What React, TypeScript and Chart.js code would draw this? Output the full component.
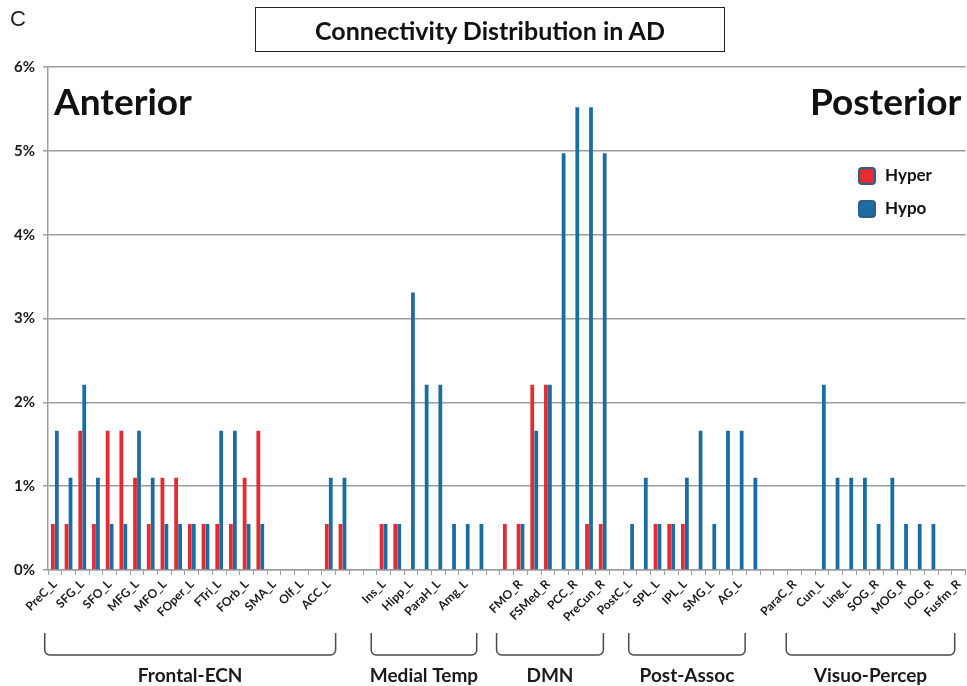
import React, { useEffect, useRef } from "react";
import { Chart, registerables } from "chart.js";

Chart.register(...registerables);

// Category labels (every category; only even-indexed ones are printed, as in the reference)
const regions: string[] = [
  "PreC_L", "PreC_R", "SFG_L", "SFG_R", "SFO_L", "SFO_R", "MFG_L", "MFG_R",
  "MFO_L", "MFO_R", "FOper_L", "FOper_R", "FTri_L", "FTri_R", "FOrb_L", "FOrb_R",
  "SMA_L", "SMA_R", "Olf_L", "Olf_R", "ACC_L", "ACC_R",
  "", "",
  "Ins_L", "Ins_R", "Hipp_L", "Hipp_R", "ParaH_L", "ParaH_R", "Amg_L", "Amg_R",
  "",
  "FMO_L", "FMO_R", "FSMed_L", "FSMed_R", "PCC_L", "PCC_R", "PreCun_L", "PreCun_R",
  "",
  "PostC_L", "PostC_R", "SPL_L", "SPL_R", "IPL_L", "IPL_R", "SMG_L", "SMG_R", "AG_L", "AG_R",
  "",
  "ParaC_L", "ParaC_R", "Cal_R", "Cun_L", "Cun_R", "Ling_L", "Ling_R", "SOG_R", "MOG_L",
  "MOG_R", "IOG_L", "IOG_R", "Fusfm_L", "Fusfm_R",
];

// Percent of connections
const hyper: number[] = [
  0.55, 0.55, 1.66, 0.55, 1.66, 1.66, 1.10, 0.55, 1.10, 1.10, 0.55, 0.55, 0.55, 0.55, 1.10, 1.66,
  0, 0, 0, 0, 0.55, 0.55,
  0, 0,
  0.55, 0.55, 0, 0, 0, 0, 0, 0,
  0,
  0.55, 0.55, 2.21, 2.21, 0, 0, 0.55, 0.55,
  0,
  0, 0, 0.55, 0.55, 0.55, 0, 0, 0, 0, 0,
  0,
  0, 0, 0, 0, 0, 0, 0, 0, 0, 0, 0, 0, 0, 0,
];

const hypo: number[] = [
  1.66, 1.10, 2.21, 1.10, 0.55, 0.55, 1.66, 1.10, 0.55, 0.55, 0.55, 0.55, 1.66, 1.66, 0.55, 0.55,
  0, 0, 0, 0, 1.10, 1.10,
  0, 0,
  0.55, 0.55, 3.31, 2.21, 2.21, 0.55, 0.55, 0.55,
  0,
  0, 0.55, 1.66, 2.21, 4.97, 5.52, 5.52, 4.97,
  0,
  0.55, 1.10, 0.55, 0.55, 1.10, 1.66, 0.55, 1.66, 1.66, 1.10,
  0,
  0, 0, 0, 2.21, 1.10, 1.10, 1.10, 0.55, 1.10, 0.55, 0.55, 0.55, 0, 0,
];

const yTicks: number[] = [0, 1, 2, 3, 4, 5, 6];

// Network groups: bracket span in category units, and name
const groupNames: string[] = ["Frontal-ECN", "Medial Temp", "DMN", "Post-Assoc", "Visuo-Percep"];
const groupStart: number[] = [-0.74, 23.1, 32.25, 41.9, 53.4];
const groupEnd: number[] = [20.5, 30.8, 40.05, 50.4, 65.7];

const RED = "#E42A33";
const BLUE = "#1B6CA3";
const GRID = "#9d9d9d";
const FONT = "Lato, 'Open Sans', sans-serif";

const bracketPlugin = {
  id: "groupBrackets",
  afterDraw(chart: any) {
    const xs = chart.scales.x;
    const c0 = xs.getPixelForValue(0);
    const step = xs.getPixelForValue(1) - c0;
    const ctx = chart.ctx;
    ctx.save();
    for (let g = 0; g < groupNames.length; g++) {
      const x1 = c0 + groupStart[g] * step;
      const x2 = c0 + groupEnd[g] * step;
      const yTop = 633;
      const yBot = 655;
      const r = 5;
      ctx.beginPath();
      ctx.moveTo(x1, yTop);
      ctx.lineTo(x1, yBot - r);
      ctx.arcTo(x1, yBot, x1 + r, yBot, r);
      ctx.lineTo(x2 - r, yBot);
      ctx.arcTo(x2, yBot, x2, yBot - r, r);
      ctx.lineTo(x2, yTop);
      ctx.strokeStyle = "#4a4a4a";
      ctx.lineWidth = 1.5;
      ctx.stroke();
      ctx.fillStyle = "#1a1a1a";
      ctx.font = `bold 19px ${FONT}`;
      ctx.textAlign = "center";
      ctx.textBaseline = "middle";
      ctx.fillText(groupNames[g], (x1 + x2) / 2, 676);
    }
    ctx.restore();
  },
};

function ConnectivityChart() {
  const ref = useRef<HTMLCanvasElement | null>(null);
  useEffect(() => {
    if (!ref.current) return;
    const chart = new Chart(ref.current, {
      type: "bar",
      data: {
        labels: regions,
        datasets: [
          { label: "Hyper", data: hyper, backgroundColor: RED, borderWidth: 0 },
          { label: "Hypo", data: hypo, backgroundColor: BLUE, borderWidth: 0 },
        ],
      },
      options: {
        animation: false,
        responsive: false,
        devicePixelRatio: 1,
        layout: { padding: { top: 67, left: 0, right: 0, bottom: 0 } },
        datasets: { bar: { categoryPercentage: 0.58, barPercentage: 0.95 } },
        plugins: { legend: { display: false }, tooltip: { enabled: false }, title: { display: false } },
        scales: {
          x: {
            type: "category",
            offset: true,
            grid: {
              display: true,
              offset: true,
              drawOnChartArea: false,
              drawTicks: true,
              tickLength: 5,
              color: GRID,
              lineWidth: 1,
            },
            border: { display: true, color: GRID, width: 1.5 },
            ticks: {
              autoSkip: false,
              maxRotation: 45,
              minRotation: 45,
              padding: 2,
              color: "#1a1a1a",
              font: { family: FONT, size: 12, weight: "bold" },
              callback: (_v: any, i: number) => (i % 2 === 0 ? regions[i] : ""),
            },
            afterFit: (s: any) => {
              s.height = 116;
            },
          },
          y: {
            min: 0,
            max: 6,
            afterBuildTicks: (s: any) => {
              s.ticks = yTicks.map((v) => ({ value: v }));
            },
            grid: { color: GRID, lineWidth: 1.5, drawTicks: true, tickLength: 5 },
            border: { display: true, color: GRID, width: 1.5 },
            ticks: {
              padding: 8,
              color: "#1a1a1a",
              font: { family: FONT, size: 15, weight: "bold" },
              callback: (v: any) => `${v}%`,
            },
            afterFit: (s: any) => {
              s.width = 48;
            },
          },
        },
      },
      plugins: [bracketPlugin],
    });
    return () => chart.destroy();
  }, []);
  return <canvas ref={ref} width={971} height={686} style={{ position: "absolute", left: 0, top: 0 }} />;
}

export default function App() {
  const txt: React.CSSProperties = { position: "absolute", fontFamily: FONT, color: "#111", whiteSpace: "nowrap" };
  const sq = (fill: string): React.CSSProperties => ({
    position: "absolute",
    width: 14,
    height: 14,
    background: fill,
    border: "2px solid #2f5f86",
    borderRadius: 4,
  });
  return (
    <div style={{ position: "fixed", left: 0, top: 0, width: 967, height: 686, overflow: "hidden", background: "#fff" }}>
      <ConnectivityChart />
      <div style={{ ...txt, left: 10, top: 6, fontSize: 22, fontFamily: "'Liberation Sans', Arial, sans-serif", color: "#222" }}>C</div>
      <div
        style={{
          position: "absolute",
          left: 255,
          top: 7,
          width: 468,
          height: 43,
          border: "1.5px solid #222",
          display: "flex",
          alignItems: "center",
          justifyContent: "center",
          fontFamily: FONT,
          fontWeight: "bold",
          fontSize: 25,
          color: "#111",
        }}
      >
        Connectivity Distribution in AD
      </div>
      <div style={{ ...txt, left: 54, top: 78, fontSize: 37, fontWeight: "bold" }}>Anterior</div>
      <div style={{ ...txt, left: 810, top: 78, fontSize: 37, fontWeight: "bold" }}>Posterior</div>
      <div style={{ ...sq(RED), left: 858, top: 167 }} />
      <div style={{ ...txt, left: 885, top: 164, fontSize: 17, fontWeight: "bold" }}>Hyper</div>
      <div style={{ ...sq(BLUE), left: 858, top: 200 }} />
      <div style={{ ...txt, left: 885, top: 197, fontSize: 17, fontWeight: "bold" }}>Hypo</div>
    </div>
  );
}
